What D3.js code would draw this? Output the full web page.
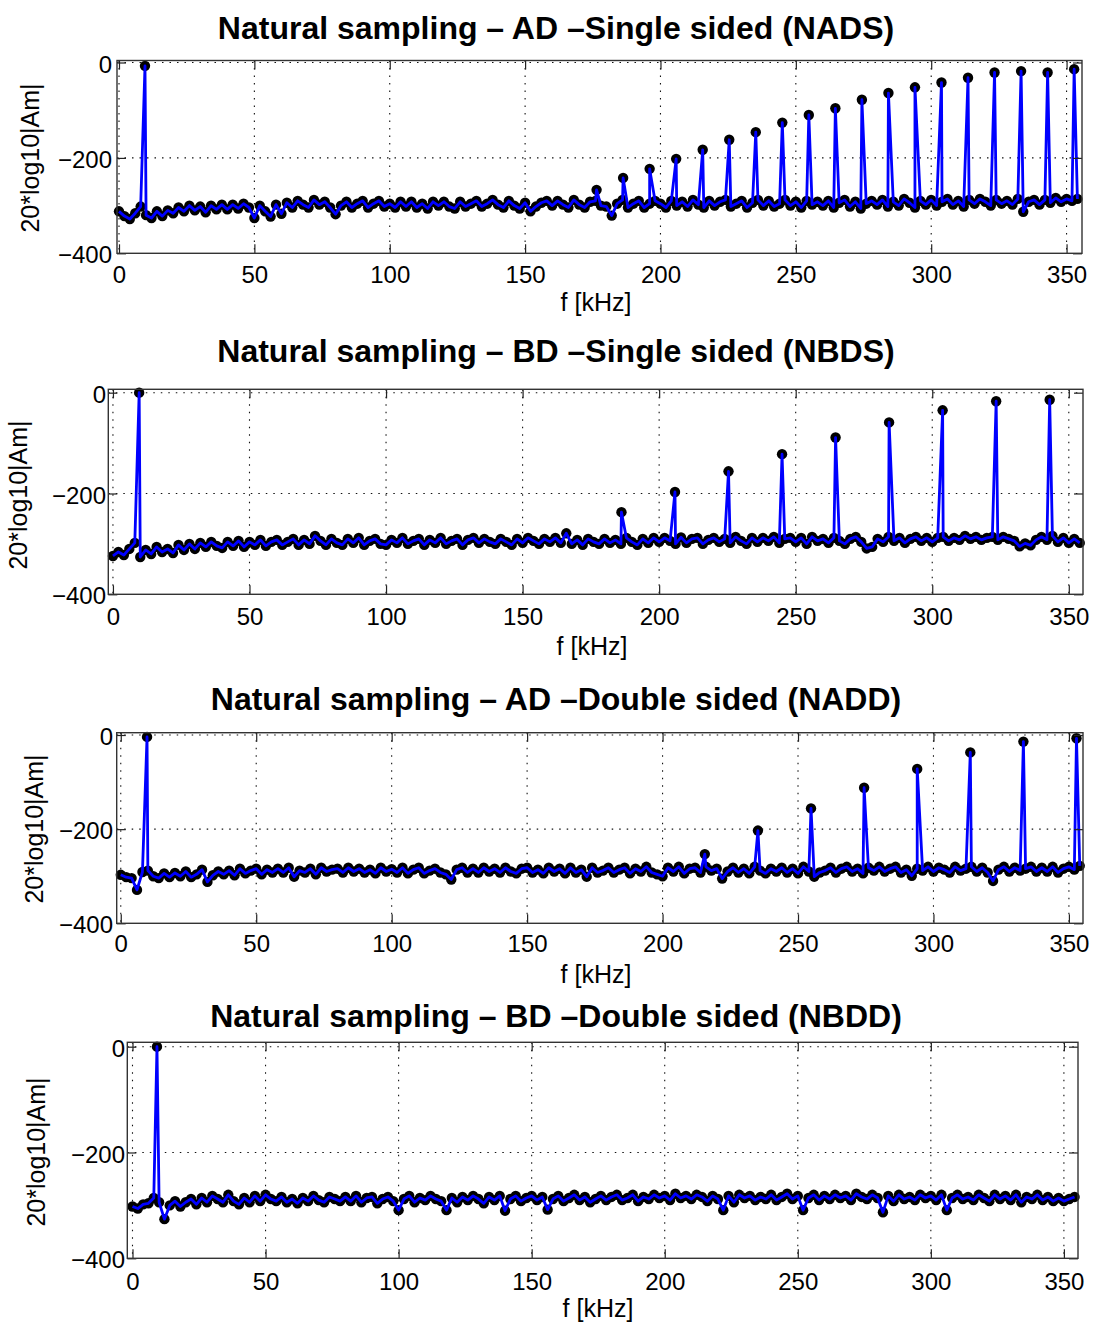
<!DOCTYPE html>
<html><head><meta charset="utf-8">
<script src="https://cdn.jsdelivr.net/npm/d3@7"></script>
<style>
body{margin:0;background:#fff}
svg{display:block}
text{font-family:"Liberation Sans",Arial,Helvetica,sans-serif;fill:#000}
</style>
</head><body>
<svg id="chart" width="1095" height="1327"></svg>
<script>
// ---- data ----
const freqStep = 2;                 // kHz between noise-floor samples, first sample at 0 kHz
const xTicks = [0,50,100,150,200,250,300,350];
const yTicks = [0,-200,-400];

const nadsFloor = [
-312,-322,-328,-316,-302,-320,-326,-312,-322,-310,
-316,-304,-312,-300,-310,-302,-314,-300,-308,-298,
-308,-298,-306,-296,-304,-326,-300,-312,-323,-298,
-317,-294,-304,-290,-298,-304,-288,-298,-292,-304,
-318,-300,-292,-304,-296,-290,-304,-296,-290,-302,
-296,-304,-292,-302,-292,-304,-296,-306,-292,-300,
-292,-302,-306,-292,-302,-296,-290,-302,-296,-288,
-298,-304,-290,-300,-306,-294,-312,-302,-294,-290,
-300,-290,-298,-304,-288,-298,-304,-292,-290,-300,
-302,-321,-296,-288,-304,-296,-290,-304,-296,-290,
-296,-304,-290,-300,-292,-302,-288,-298,-304,-290,
-300,-292,-288,-302,-296,-290,-304,-294,-288,-300,
-290,-302,-296,-288,-300,-292,-304,-290,-298,-292,
-300,-290,-304,-294,-288,-302,-292,-306,-296,-290,
-298,-288,-302,-292,-300,-286,-294,-304,-290,-298,
-288,-300,-292,-286,-298,-290,-302,-288,-296,-286,
-292,-300,-288,-296,-290,-298,-286,-313,-292,-288,
-298,-288,-294,-284,-292,-286,-290,-286];
const nadsPeakF = [9.6,176.4,186.2,196,205.8,215.6,225.4,235.2,245,254.8,264.6,274.4,284.2,294,303.8,313.6,323.4,333.2,343,352.8];
const nadsPeakV = [-7,-267,-242,-223,-202,-183,-162,-146,-126,-110,-96,-78,-64,-52,-42,-32,-21,-18,-21,-14];

const nbdsFloor = [
-324,-316,-322,-310,-298,-326,-312,-320,-306,-316,
-310,-318,-302,-312,-300,-310,-298,-306,-296,-304,
-308,-296,-304,-294,-306,-296,-302,-292,-304,-296,
-292,-302,-296,-290,-302,-292,-300,-284,-294,-302,
-290,-298,-302,-290,-298,-288,-302,-294,-290,-300,
-302,-292,-298,-288,-300,-294,-290,-302,-292,-298,
-288,-300,-294,-290,-302,-292,-288,-298,-290,-296,
-300,-290,-296,-302,-290,-298,-288,-294,-300,-290,
-296,-288,-298,-279,-300,-292,-302,-290,-296,-300,
-290,-298,-292,-300,-288,-296,-302,-290,-298,-288,
-296,-288,-294,-300,-287,-298,-290,-288,-300,-292,
-288,-296,-290,-298,-286,-294,-300,-288,-296,-288,
-294,-286,-298,-290,-288,-296,-288,-300,-286,-294,
-290,-298,-288,-294,-300,-290,-286,-296,-309,-306,
-290,-296,-286,-294,-288,-298,-290,-286,-294,-288,
-296,-288,-286,-294,-288,-292,-284,-290,-286,-292,
-288,-286,-292,-286,-290,-294,-305,-299,-303,-292,
-286,-292,-284,-296,-288,-298,-290,-298];
const nbdsPeakF = [9.6,186.2,205.8,225.4,245,264.6,284.2,303.8,323.4,343];
const nbdsPeakV = [0,-237,-197,-156,-122,-89,-59,-35,-17,-14];

const naddFloor = [
-297,-302,-304,-329,-291,-288,-300,-304,-294,-302,
-293,-300,-290,-302,-296,-286,-312,-298,-290,-296,
-288,-298,-284,-294,-288,-284,-296,-286,-292,-284,
-292,-282,-301,-288,-292,-284,-296,-282,-290,-286,
-284,-292,-282,-290,-284,-292,-286,-294,-282,-290,
-285,-292,-282,-294,-286,-282,-294,-288,-284,-292,
-296,-307,-286,-282,-292,-284,-292,-282,-290,-284,
-292,-282,-290,-294,-284,-282,-292,-286,-294,-282,
-290,-284,-294,-282,-292,-286,-301,-282,-292,-288,
-282,-292,-286,-282,-294,-284,-290,-280,-292,-296,
-300,-282,-290,-280,-294,-284,-282,-292,-280,-288,
-284,-305,-290,-282,-292,-284,-294,-280,-288,-294,
-284,-290,-282,-292,-284,-294,-280,-290,-301,-292,
-288,-282,-292,-284,-280,-290,-284,-294,-282,-288,
-280,-290,-284,-280,-292,-286,-299,-284,-288,-280,
-290,-282,-286,-292,-280,-288,-284,-280,-290,-282,
-292,-310,-286,-280,-290,-282,-288,-284,-280,-290,
-282,-290,-280,-292,-284,-280,-286,-278];
const naddPeakF = [9.7,215.6,235.2,254.8,274.4,294,313.6,333.2,352.8];
const naddPeakV = [-4,-253,-203,-156,-112,-72,-37,-14,-7];

const nbddFloor = [
-302,-306,-298,-296,-286,-294,-326,-300,-292,-302,
-294,-288,-298,-286,-294,-282,-288,-294,-280,-292,
-298,-286,-294,-282,-292,-280,-288,-292,-284,-294,
-288,-296,-286,-292,-282,-290,-294,-284,-288,-292,
-284,-292,-282,-294,-286,-284,-296,-288,-284,-292,
-309,-288,-282,-294,-286,-290,-282,-288,-292,-309,
-286,-294,-284,-290,-282,-288,-296,-284,-290,-282,
-310,-288,-282,-292,-286,-282,-290,-284,-308,-288,
-282,-292,-286,-280,-290,-284,-294,-288,-282,-290,
-284,-280,-290,-286,-280,-292,-284,-288,-280,-286,
-282,-290,-278,-286,-282,-288,-280,-284,-292,-282,
-288,-309,-282,-294,-280,-286,-282,-290,-284,-288,
-280,-290,-284,-278,-288,-282,-309,-286,-280,-290,
-282,-288,-280,-286,-282,-290,-278,-284,-288,-280,
-286,-313,-282,-292,-280,-288,-284,-290,-280,-286,
-282,-290,-280,-309,-286,-280,-288,-284,-290,-280,
-286,-292,-280,-288,-282,-290,-280,-294,-284,-288,
-280,-290,-284,-292,-286,-292,-288,-284];
const nbddPeakF = [9.2];
const nbddPeakV = [0];

// ---- layout ----
const panels = [
  {title:"Natural sampling – AD –Single sided (NADS)", floor:nadsFloor, pf:nadsPeakF, pv:nadsPeakV,
   box:{l:117,r:1082,t:60.5,b:253.3}, xd:[-0.74,355.7], yd:[-400,4.2],
   titleY:38.5, xTickBase:283.3, yLabEnd:112, xlabX:596, xlabY:311, ylabX:38.5, ylabY:158},
  {title:"Natural sampling – BD –Single sided (NBDS)", floor:nbdsFloor, pf:nbdsPeakF, pv:nbdsPeakV,
   box:{l:108.3,r:1083,t:389.3,b:594.3}, xd:[-1.7,355.2], yd:[-400,6.7],
   titleY:361.5, xTickBase:625, yLabEnd:106, xlabX:592, xlabY:655, ylabX:26.5, ylabY:495},
  {title:"Natural sampling – AD –Double sided (NADD)", floor:naddFloor, pf:naddPeakF, pv:naddPeakV,
   box:{l:116.7,r:1083,t:732.7,b:923.3}, xd:[-1.5,355.2], yd:[-400,4.9],
   titleY:709.5, xTickBase:951.7, yLabEnd:113, xlabX:596, xlabY:983, ylabX:43, ylabY:829},
  {title:"Natural sampling – BD –Double sided (NBDD)", floor:nbddFloor, pf:nbddPeakF, pv:nbddPeakV,
   box:{l:127.3,r:1078,t:1042.3,b:1258.3}, xd:[-1.95,355.3], yd:[-400,8.3],
   titleY:1026.5, xTickBase:1290, yLabEnd:125, xlabX:598, xlabY:1317, ylabX:44.8, ylabY:1152}
];

const svg = d3.select("#chart");
const fmt = d3.format("d");
const TICK = 9;

panels.forEach(p => {
  const b = p.box;
  const x = d3.scaleLinear().domain(p.xd).range([b.l, b.r]);
  const y = d3.scaleLinear().domain(p.yd).range([b.b, b.t]);
  const g = svg.append("g");

  // grid (dotted)
  g.append("g").selectAll("line").data(xTicks).join("line")
    .attr("x1", d => x(d)).attr("x2", d => x(d)).attr("y1", b.t).attr("y2", b.b)
    .attr("stroke", "#111").attr("stroke-width", 1.1).attr("stroke-dasharray", "1.5,6");
  g.append("g").selectAll("line").data(yTicks.filter(v => v > -400)).join("line")
    .attr("x1", b.l).attr("x2", b.r).attr("y1", d => y(d)).attr("y2", d => y(d))
    .attr("stroke", "#111").attr("stroke-width", 1.1).attr("stroke-dasharray", "1.5,6");

  // data points: floor samples plus spectral lines (stable sort keeps floor first at equal f)
  const floorPts = p.floor.map((v, i) => ({f: i * freqStep, v}));
  const pts = floorPts.concat(p.pf.map((f, i) => ({f, v: p.pv[i]})))
    .sort((a, c) => a.f - c.f);

  g.append("g").selectAll("circle").data(pts).join("circle")
    .attr("cx", d => x(d.f)).attr("cy", d => y(d.v)).attr("r", 5.2).attr("fill", "#000");
  g.append("path").datum(pts)
    .attr("d", d3.line().x(d => x(d.f)).y(d => y(d.v)))
    .attr("fill", "none").attr("stroke", "#0000ff").attr("stroke-width", 2.8)
    .attr("stroke-linejoin", "round");

  // axes
  const styleAxis = sel => {
    sel.select(".domain").remove();
    sel.selectAll(".tick line").attr("stroke", "#222").attr("stroke-width", 1.2);
    sel.selectAll("text").attr("font-size", 24).attr("font-family", "Liberation Sans, Arial, sans-serif").attr("fill", "#000");
  };
  const pad = p.xTickBase - b.b - 0.71 * 24;
  g.append("g").attr("transform", `translate(0,${b.b})`)
    .call(d3.axisBottom(x).tickValues(xTicks).tickFormat(fmt).tickSizeInner(-TICK).tickSizeOuter(0).tickPadding(pad))
    .call(styleAxis);
  g.append("g").attr("transform", `translate(0,${b.t})`)
    .call(d3.axisTop(x).tickValues(xTicks).tickFormat("").tickSizeInner(-TICK).tickSizeOuter(0))
    .call(styleAxis);
  g.append("g").attr("transform", `translate(${b.l},0)`)
    .call(d3.axisLeft(y).tickValues(yTicks).tickFormat(fmt).tickSizeInner(-TICK).tickSizeOuter(0).tickPadding(b.l - p.yLabEnd))
    .call(styleAxis)
    .selectAll("text").attr("dy", "0.4em");
  g.append("g").attr("transform", `translate(${b.r},0)`)
    .call(d3.axisRight(y).tickValues(yTicks).tickFormat("").tickSizeInner(-TICK).tickSizeOuter(0))
    .call(styleAxis);

  // frame
  g.append("rect").attr("x", b.l).attr("y", b.t).attr("width", b.r - b.l).attr("height", b.b - b.t)
    .attr("fill", "none").attr("stroke", "#333").attr("stroke-width", 1.4);

  // labels
  g.append("text").attr("x", 556).attr("y", p.titleY).attr("text-anchor", "middle")
    .attr("font-size", 32).attr("font-weight", "bold").text(p.title);
  g.append("text").attr("x", p.xlabX).attr("y", p.xlabY).attr("text-anchor", "middle")
    .attr("font-size", 25).text("f [kHz]");
  g.append("text").attr("transform", `translate(${p.ylabX},${p.ylabY}) rotate(-90)`)
    .attr("text-anchor", "middle").attr("font-size", 25).text("20*log10|Am|");
});
</script>
</body></html>
